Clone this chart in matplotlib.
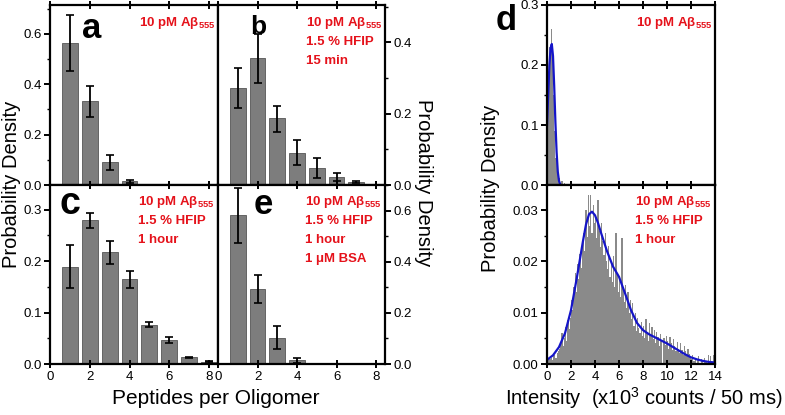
import numpy as np
import matplotlib
matplotlib.use("Agg")
import matplotlib.pyplot as plt
from matplotlib.ticker import MultipleLocator, FormatStrFormatter

plt.rcParams.update({
    "font.family": ["Liberation Sans", "DejaVu Sans"],
    "mathtext.fontset": "custom",
    "mathtext.rm": "Liberation Sans",
    "mathtext.bf": "Liberation Sans:bold",
    "axes.linewidth": 1.6,
})

# ---------------- data ----------------
# peptides per oligomer histograms: value, lower err, upper err
a_n = [1, 2, 3, 4]
a_val = [0.565, 0.332, 0.091, 0.015]
a_lo = [0.452, 0.269, 0.059, 0.007]
a_hi = [0.677, 0.392, 0.121, 0.021]

b_n = [1, 2, 3, 4, 5, 6, 7]
b_val = [0.271, 0.356, 0.187, 0.091, 0.048, 0.023, 0.008]
b_lo = [0.215, 0.287, 0.150, 0.056, 0.020, 0.011, 0.006]
b_hi = [0.328, 0.423, 0.222, 0.127, 0.075, 0.033, 0.010]

c_n = [1, 2, 3, 4, 5, 6, 7, 8]
c_val = [0.189, 0.279, 0.217, 0.165, 0.076, 0.046, 0.013, 0.0045]
c_lo = [0.148, 0.264, 0.195, 0.148, 0.072, 0.041, 0.012, 0.003]
c_hi = [0.231, 0.294, 0.239, 0.181, 0.081, 0.052, 0.014, 0.006]

e_n = [1, 2, 3, 4]
e_val = [0.583, 0.295, 0.103, 0.014]
e_lo = [0.475, 0.240, 0.058, 0.004]
e_hi = [0.690, 0.349, 0.148, 0.022]

# intensity histograms (bin width 0.1, x10^3 counts / 50 ms)
d1_hist = [0.08, 0.17, 0.23, 0.26, 0.22, 0.15, 0.09, 0.045, 0.02, 0.008,
           0.012, 0.004, 0.007, 0.002, 0.003]
d1_curve_x = [0.0, 0.1, 0.2, 0.3, 0.4, 0.5, 0.6, 0.7, 0.8, 0.9, 1.0, 1.1, 1.2]
d1_curve_y = [0.10, 0.15, 0.20, 0.228, 0.235, 0.215, 0.165, 0.105, 0.055,
              0.022, 0.007, 0.001, 0.0]

d2_hist = [
    0.0006, 0.0008, 0.0010, 0.0012, 0.0008, 0.0015, 0.0018, 0.0012, 0.0022, 0.0025,
    0.0030, 0.0042, 0.0060, 0.0035, 0.0050, 0.0072, 0.0045, 0.0085, 0.0068, 0.0090,
    0.0125, 0.0105, 0.0150, 0.0178, 0.0140, 0.0195, 0.0165, 0.0215, 0.0188, 0.0230,
    0.0255, 0.0220, 0.0300, 0.0248, 0.0330, 0.0270, 0.0330, 0.0255, 0.0310, 0.0275,
    0.0290, 0.0245, 0.0320, 0.0260, 0.0228, 0.0275, 0.0240, 0.0212, 0.0255, 0.0200,
    0.0185, 0.0230, 0.0170, 0.0195, 0.0160, 0.0210, 0.0150, 0.0255, 0.0175, 0.0140,
    0.0165, 0.0130, 0.0245, 0.0150, 0.0120, 0.0155, 0.0110, 0.0140, 0.0100, 0.0125,
    0.0088, 0.0118, 0.0075, 0.0100, 0.0065, 0.0090, 0.0070, 0.0060, 0.0082, 0.0055,
    0.0075, 0.0050, 0.0088, 0.0062, 0.0045, 0.0080, 0.0058, 0.0072, 0.0048, 0.0066,
    0.0040, 0.0062, 0.0052, 0.0035, 0.0058, 0.0045, 0.0000, 0.0050, 0.0038, 0.0055,
    0.0045, 0.0030, 0.0052, 0.0040, 0.0028, 0.0048, 0.0035, 0.0025, 0.0042, 0.0030,
    0.0022, 0.0040, 0.0028, 0.0018, 0.0035, 0.0025, 0.0015, 0.0030, 0.0020, 0.0012,
    0.0010, 0.0018, 0.0005, 0.0012, 0.0000, 0.0008, 0.0015, 0.0000, 0.0010, 0.0006,
    0.0000, 0.0012, 0.0004, 0.0000, 0.0018, 0.0002, 0.0016, 0.0000, 0.0017, 0.0001,
]
d2_curve_x = [0.0, 0.5, 1.0, 1.5, 2.0, 2.5, 3.0, 3.25, 3.5, 3.75, 4.0, 4.25, 4.5,
              5.0, 5.5, 6.0, 6.5, 7.0, 7.5, 8.0, 8.5, 9.0, 9.5, 10.0, 10.5,
              11.0, 11.5, 12.0, 12.5, 13.0, 13.5, 14.0]
d2_curve_y = [0.0008, 0.0017, 0.0033, 0.0060, 0.0105, 0.0170, 0.0240, 0.0272,
              0.0292, 0.0297, 0.0290, 0.0275, 0.0256, 0.0220, 0.0190, 0.0170,
              0.0138, 0.0105, 0.0080, 0.0066, 0.0058, 0.0052, 0.0046, 0.0040,
              0.0033, 0.0026, 0.0019, 0.0013, 0.0009, 0.0006, 0.0004, 0.0003]

RED = "#e5121b"
AB = "10 pM Aβ$_{\\mathbf{555}}$"

W, H = 785, 415
fig = plt.figure(figsize=(W / 100, H / 100), dpi=100)


def box(x0, y0, x1, y1):
    # caja en pixeles -> ejes de la figura
    return fig.add_axes([x0 / W, (H - y1) / H, (x1 - x0) / W, (y1 - y0) / H])


def style(ax, right=False, xlabels=False):
    ax.tick_params(axis="x", which="both", direction="inout", top=True,
                   labelbottom=xlabels, labelsize=9.5, width=1.4, length=6, pad=2)
    ax.tick_params(axis="y", which="major", direction="out", length=4, width=1.4,
                   labelsize=9.5, pad=2, left=not right, right=right,
                   labelleft=not right, labelright=right)
    ax.tick_params(axis="y", which="minor", direction="out", length=2.5, width=1.0,
                   left=not right, right=right)


def bars(ax, n, val, lo, hi):
    n = np.array(n)
    val = np.array(val)
    err = [val - np.array(lo), np.array(hi) - val]
    ax.bar(n, val, width=0.8, color="#7d7d7d", edgecolor="#555555", linewidth=0.6)
    ax.errorbar(n, val, yerr=err, fmt="none", ecolor="black", elinewidth=1.3,
                capsize=3, capthick=1.2)
    ax.set_xlim(0, 8.45)
    ax.xaxis.set_major_locator(MultipleLocator(2))


def notes(lines, x, y0, dy):
    for i, s in enumerate(lines):
        fig.text(x / W, 1 - (y0 + i * dy) / H, s, color=RED, fontsize=9.5,
                 fontweight="bold", ha="left", va="center")


# panel a
ax_a = box(50, 5, 218, 185)
bars(ax_a, a_n, a_val, a_lo, a_hi)
ax_a.set_ylim(0, 0.715)
ax_a.yaxis.set_major_locator(MultipleLocator(0.2))
ax_a.yaxis.set_minor_locator(MultipleLocator(0.1))
style(ax_a)

# panel b
ax_b = box(218, 5, 385, 185)
bars(ax_b, b_n, b_val, b_lo, b_hi)
ax_b.set_ylim(0, 0.505)
ax_b.yaxis.set_major_locator(MultipleLocator(0.2))
ax_b.yaxis.set_minor_locator(MultipleLocator(0.1))
style(ax_b, right=True)

# panel c
ax_c = box(50, 185, 218, 364)
bars(ax_c, c_n, c_val, c_lo, c_hi)
ax_c.set_ylim(0, 0.348)
ax_c.yaxis.set_major_locator(MultipleLocator(0.1))
ax_c.yaxis.set_minor_locator(MultipleLocator(0.05))
style(ax_c, xlabels=True)

# panel e
ax_e = box(218, 185, 385, 364)
bars(ax_e, e_n, e_val, e_lo, e_hi)
ax_e.set_ylim(0, 0.70)
ax_e.yaxis.set_major_locator(MultipleLocator(0.2))
ax_e.yaxis.set_minor_locator(MultipleLocator(0.1))
style(ax_e, right=True, xlabels=True)

# panel d (arriba)
ax_d1 = box(547, 5, 715, 185)
ax_d1.bar(np.arange(len(d1_hist)) * 0.1, d1_hist, width=0.1, align="edge",
          color="#8a8a8a", linewidth=0)
ax_d1.plot(d1_curve_x, d1_curve_y, color="#1515c8", lw=1.6)
ax_d1.set_xlim(0, 14)
ax_d1.set_ylim(0, 0.3)
ax_d1.xaxis.set_major_locator(MultipleLocator(2))
ax_d1.yaxis.set_major_locator(MultipleLocator(0.1))
ax_d1.yaxis.set_minor_locator(MultipleLocator(0.05))
style(ax_d1)

# panel d (abajo)
ax_d2 = box(547, 185, 715, 364)
ax_d2.bar(np.arange(len(d2_hist)) * 0.1, d2_hist, width=0.1, align="edge",
          color="#8a8a8a", linewidth=0)
ax_d2.plot(d2_curve_x, d2_curve_y, color="#1515c8", lw=1.6)
ax_d2.set_xlim(0, 14)
ax_d2.set_ylim(0, 0.0349)
ax_d2.xaxis.set_major_locator(MultipleLocator(2))
ax_d2.yaxis.set_major_locator(MultipleLocator(0.01))
ax_d2.yaxis.set_minor_locator(MultipleLocator(0.005))
ax_d2.yaxis.set_major_formatter(FormatStrFormatter("%.2f"))
style(ax_d2, xlabels=True)

for ax in (ax_a, ax_b, ax_c, ax_e, ax_d1):
    ax.yaxis.set_major_formatter(FormatStrFormatter("%.1f"))

# letras de panel
fig.text(92 / W, 1 - 28 / H, "a", fontsize=25, fontweight="bold", ha="center", va="center")
fig.text(258 / W, 1 - 27 / H, "b", fontsize=19, fontweight="bold", ha="center", va="center")
fig.text(70 / W, 1 - 204 / H, "c", fontsize=27, fontweight="bold", ha="center", va="center")
fig.text(263 / W, 1 - 205 / H, "e", fontsize=25, fontweight="bold", ha="center", va="center")
fig.text(506 / W, 1 - 20 / H, "d", fontsize=25, fontweight="bold", ha="center", va="center")

# anotaciones en rojo
notes([AB], 139, 23, 19)
notes([AB, "1.5 % HFIP", "15 min"], 306, 23, 19)
notes([AB, "1.5 % HFIP", "1 hour"], 138, 202, 19)
notes([AB, "1.5 % HFIP", "1 hour", "1 μM BSA"], 305, 202, 19)
notes([AB], 636, 23, 19)
notes([AB, "1.5 % HFIP", "1 hour"], 635, 202, 19)

# titulos de ejes
fig.text(12 / W, 1 - 184 / H, "Probability Density", rotation=90, fontsize=14.5,
         ha="center", va="center")
fig.text(424 / W, 1 - 183 / H, "Probability Density", rotation=270, fontsize=14.5,
         ha="center", va="center")
fig.text(490 / W, 1 - 188 / H, "Probability Density", rotation=90, fontsize=14.5,
         ha="center", va="center")
fig.text(216 / W, 1 - 398 / H, "Peptides per Oligomer", fontsize=15,
         ha="center", va="center")
fig.text(644 / W, 1 - 398 / H, r"Intensity  (x10$^3$ counts / 50 ms)", fontsize=14.5,
         ha="center", va="center")

fig.savefig("out.png", dpi=100)
